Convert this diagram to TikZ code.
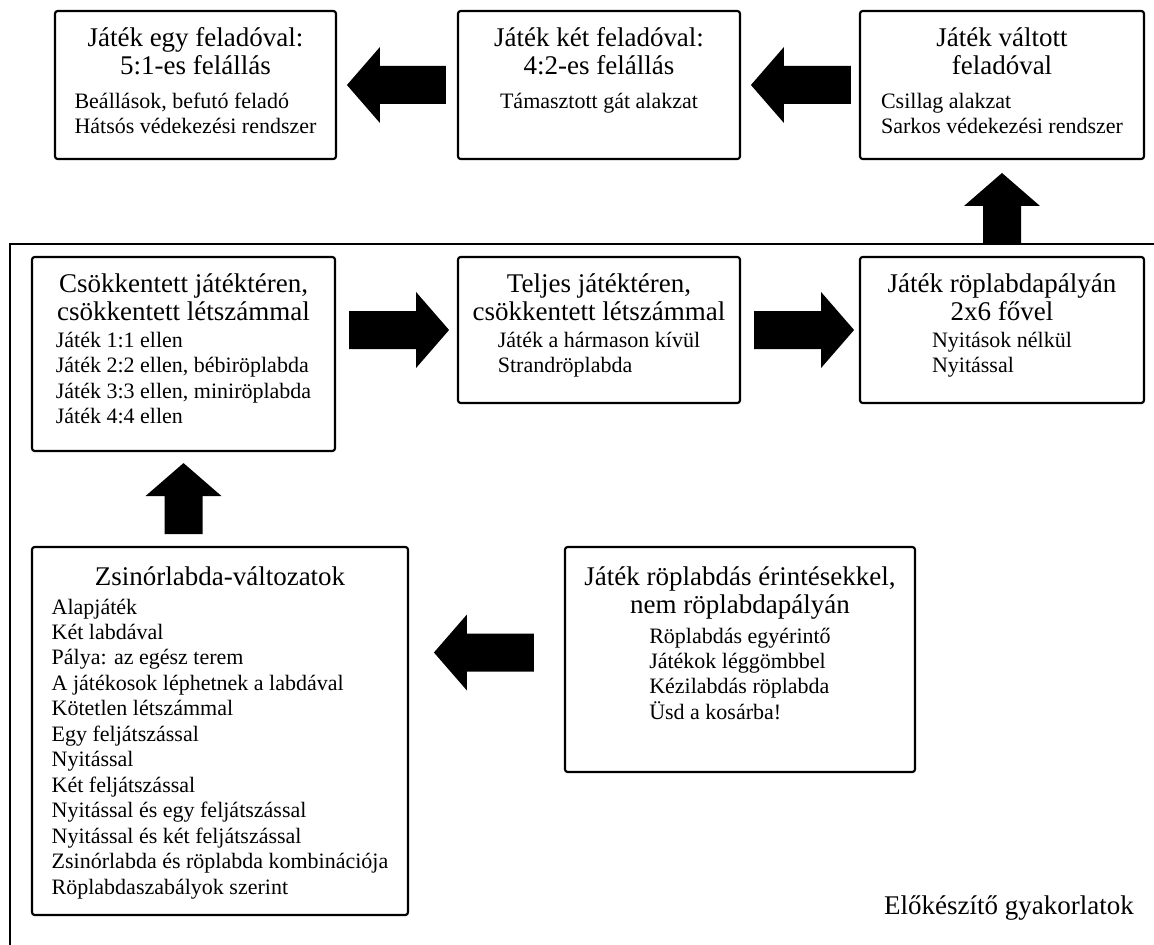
\documentclass[tikz,border=0pt]{standalone}
\usepackage{fontspec}
\setmainfont{Liberation Serif}
\usetikzlibrary{fit,calc}
\newcommand\ttlblock[1]{{\fontsize{20.25}{21}\selectfont\begin{tabular}{@{}c@{}}#1\end{tabular}}}
\newcommand\itmblock[1]{{\fontsize{16.5}{19.1}\selectfont\begin{tabular}{@{}l@{}}#1\end{tabular}}}
\newcommand\blockarr[3]{\fill[arrowfill, shift={#1}, rotate=#2] (0,-19) -- ({#3-33},-19) -- ({#3-33},-38) -- (#3,0) -- ({#3-33},38) -- ({#3-33},19) -- (0,19) -- cycle;}
\tikzset{
  boxframe/.style={draw, line width=1.6pt, rounded corners=2pt, inner sep=0pt},
  boxtext/.style={anchor=north, align=center, inner sep=0pt},
  framedraw/.style={line width=1.9pt},
  arrowfill/.style={fill=black},
}
\begin{document}
\begin{tikzpicture}[x=0.75pt,y=-0.75pt]
\useasboundingbox (0,0) rectangle (1154,945);
% outer frame
\coordinate (frR) at (1154,244);
\coordinate (frC) at (10,244);
\coordinate (frB) at (10,945);
\draw[framedraw] (frR) -- (frC) -- (frB);
% top row
\node[boxframe, fit={(55,11) (336,159)}] (A) {};
\node[boxtext] (tA) at ([yshift=-12.5pt]A.north) {\ttlblock{Játék egy feladóval:\\5:1-es felállás}\\[4.5pt]\itmblock{Beállások, befutó feladó\\Hátsós védekezési rendszer}};
\node[boxframe, fit={(458,11) (740,159)}] (B) {};
\node[boxtext] (tB) at ([yshift=-12.5pt]B.north) {\ttlblock{Játék két feladóval:\\4:2-es felállás}\\[4.5pt]\itmblock{Támasztott gát alakzat}};
\node[boxframe, fit={(860,11) (1144,159)}] (C) {};
\node[boxtext] (tC) at ([yshift=-12.5pt]C.north) {\ttlblock{Játék váltott\\feladóval}\\[4.5pt]\itmblock{Csillag alakzat\\Sarkos védekezési rendszer}};
% middle row
\node[boxframe, fit={(32,257) (335,451)}] (D) {};
\node[boxtext] (tD) at ([yshift=-12.5pt]D.north) {\ttlblock{Csökkentett játéktéren,\\csökkentett létszámmal}\\[-0.5pt]\itmblock{Játék 1:1 ellen\\Játék 2:2 ellen, bébiröplabda\\Játék 3:3 ellen, miniröplabda\\Játék 4:4 ellen}};
\node[boxframe, fit={(458,257) (740,403)}] (E) {};
\node[boxtext] (tE) at ([yshift=-12.5pt]E.north) {\ttlblock{Teljes játéktéren,\\csökkentett létszámmal}\\[-0.5pt]\itmblock{Játék a hármason kívül\\Strandröplabda}};
\node[boxframe, fit={(860,257) (1144,403)}] (F) {};
\node[boxtext] (tF) at ([yshift=-12.5pt]F.north) {\ttlblock{Játék röplabdapályán\\2x6 fővel}\\[-0.5pt]\itmblock{Nyitások nélkül\\Nyitással}};
% bottom row
\node[boxframe, fit={(32,547) (408,915)}] (G) {};
\node[boxtext] (tG) at ([yshift=-15pt]G.north) {\ttlblock{Zsinórlabda-változatok}\\[0.5pt]\itmblock{Alapjáték\\Két labdával\\Pálya: az egész terem\\A játékosok léphetnek a labdával\\Kötetlen létszámmal\\Egy feljátszással\\Nyitással\\Két feljátszással\\Nyitással és egy feljátszással\\Nyitással és két feljátszással\\Zsinórlabda és röplabda kombinációja\\Röplabdaszabályok szerint}};
\node[boxframe, fit={(565,547) (915,772)}] (H) {};
\node[boxtext] (tH) at ([yshift=-15pt]H.north) {\ttlblock{Játék röplabdás érintésekkel,\\nem röplabdapályán}\\[1.25pt]\itmblock{Röplabdás egyérintő\\Játékok léggömbbel\\Kézilabdás röplabda\\Üsd a kosárba!}};
% label
\node[anchor=east, inner sep=0pt, font=\fontsize{20.25}{21}\selectfont] (lbl) at (1134,908) {Előkészítő gyakorlatok};
% block arrows
\blockarr{($(B.west)+(-11,0)$)}{180}{99}
\blockarr{($(C.west)+(-8,0)$)}{180}{100}
\blockarr{(C.south |- frC)}{90}{71}
\blockarr{($(D.east |- E.west)+(13,0)$)}{0}{100}
\blockarr{($(E.east)+(13,0)$)}{0}{100}
\blockarr{($(D.south)+(0,82)$)}{90}{71}
\blockarr{($(H.west)+(-30,-7)$)}{180}{100}
\end{tikzpicture}
\end{document}
